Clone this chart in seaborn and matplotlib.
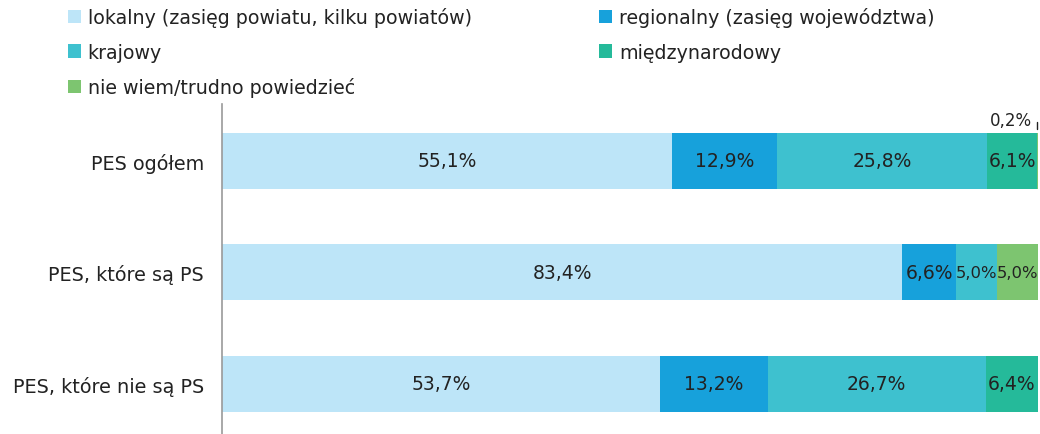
import matplotlib
matplotlib.use("Agg")
import matplotlib.pyplot as plt
from matplotlib.patches import Patch
import numpy as np
import pandas as pd
import seaborn as sns

groups = ["PES ogółem", "PES, które są PS", "PES, które nie są PS"]
series = ["lokalny (zasięg powiatu, kilku powiatów)",
          "regionalny (zasięg województwa)",
          "krajowy",
          "międzynarodowy",
          "nie wiem/trudno powiedzieć"]
lokalny = [55.1, 83.4, 53.7]
regionalny = [12.9, 6.6, 13.2]
krajowy = [25.8, 5.0, 26.7]
miedzynarodowy = [6.1, 0.0, 6.4]
nie_wiem = [0.2, 5.0, 0.0]
colors = ["#BDE5F8", "#17A1DB", "#3EC1CF", "#25BA9A", "#7DC570"]

values = [lokalny, regionalny, krajowy, miedzynarodowy, nie_wiem]

sns.set_theme(style="white")
plt.rcParams["font.family"] = ["DejaVu Sans"]
TXT = "#222222"

fig = plt.figure(figsize=(10.4, 4.35), dpi=100)
ax = fig.add_axes([0.2135, 0.0, 0.7845, 0.7586])

left = np.zeros(len(groups))
for name, vals, col in zip(series, values, colors):
    df = pd.DataFrame({"grupa": groups, "val": vals})
    sns.barplot(data=df, x="val", y="grupa", orient="h", color=col,
                left=left, width=0.5, linewidth=0, saturation=1, ax=ax)
    for i, v in enumerate(vals):
        if v >= 1:
            # narrow segments get a smaller label so it fits
            fs = 11.8 if v <= 5.5 else 13.5
            ax.text(left[i] + v / 2, i, f"{v:.1f}%".replace(".", ","),
                    ha="center", va="center", fontsize=fs, color=TXT)
    left += np.array(vals)

# small 0,2% label above first bar
ax.annotate("0,2%", xy=(99.9, -0.26), xytext=(99.3, -0.37),
            ha="right", va="center", fontsize=12, color=TXT,
            arrowprops=dict(arrowstyle="-", color=TXT, lw=1,
                            connectionstyle="angle,angleA=0,angleB=90,rad=0"))

ax.set_xlim(0, 100)
ax.set_ylim(2.45, -0.51)
ax.set_xlabel("")
ax.set_ylabel("")
ax.set_xticks([])
ax.tick_params(axis="y", length=0, pad=13, labelsize=13.9, labelcolor=TXT)
for s in ["top", "right", "bottom"]:
    ax.spines[s].set_visible(False)
ax.spines["left"].set_color("#999999")
ax.spines["left"].set_linewidth(1.2)

handles = [Patch(facecolor=c, edgecolor="none") for c in colors]
order = [0, 2, 4, 1, 3]
fig.legend([handles[i] for i in order], [series[i] for i in order],
           ncol=2, loc="upper left", bbox_to_anchor=(0.0485, 1.02),
           frameon=False, fontsize=13.7, handlelength=0.7, handleheight=0.7,
           handletextpad=0.35, columnspacing=6.7, labelspacing=0.8,
           labelcolor=TXT)

fig.savefig("out.png", dpi=100)
